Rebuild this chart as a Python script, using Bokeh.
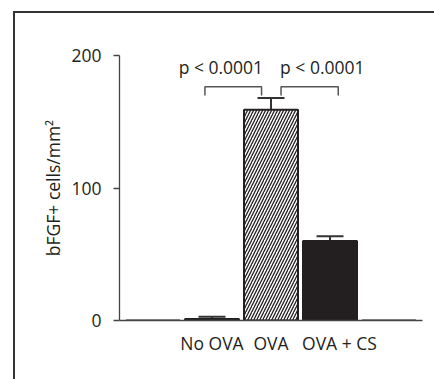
from bokeh.plotting import figure
from bokeh.models import Range1d, FixedTicker, Whisker, TeeHead, ColumnDataSource
from bokeh.core.properties import value
from bokeh.embed import file_html
from bokeh.resources import INLINE

# ---- data ----
positions = [0, 1, 2, 3, 4]
bar_values = [0, 1.2, 159, 60, 0]
bar_hatch = [" ", " ", "/", " ", " "]
bar_fill = ["white", "#231f20", "white", "#231f20", "white"]

err_pos = [1, 2, 3]
err_low = [1.2, 159, 60]
err_high = [2.8, 168, 63.5]

category_labels = ["No OVA", "OVA", "OVA + CS"]
label_pos = [1, 2, 3.16]
y_ticks = [0, 100, 200]

p_texts = ["p < 0.0001", "p < 0.0001"]
p_x = [1.15, 2.87]
p_y = [191.5, 191.5]

bracket_x0 = [0.88, 2.17]
bracket_x1 = [1.84, 3.14]
bracket_top = [176.5, 176.5]
bracket_bottom = [169.8, 169.8]

INK = "#231f20"
FONT = "Open Sans"
FS = "17.5px"

p = figure(width=434, height=379, output_backend="svg", toolbar_location=None,
           x_range=Range1d(-0.568, 4.568), y_range=Range1d(0, 200),
           min_border_left=119, min_border_right=12, min_border_top=55, min_border_bottom=59)
p.outline_line_color = None
p.xgrid.grid_line_color = None
p.ygrid.grid_line_color = None
p.background_fill_color = None
p.border_fill_color = None
# outer panel frame (only its left and top edges fall inside the picture)
p.styles = {
    "background": "linear-gradient(#333333, #333333) 13px 11px / 2px 100% no-repeat, "
                  "linear-gradient(#333333, #333333) 13px 11px / 100% 2px no-repeat, white"
}

src = ColumnDataSource(dict(x=positions, top=bar_values, hatch=bar_hatch, fill=bar_fill))
p.vbar(x="x", top="top", width=0.915, source=src, fill_color="fill", line_color=INK,
       line_width=2, hatch_pattern="hatch", hatch_color=INK, hatch_scale=6, hatch_weight=1.3)

esrc = ColumnDataSource(dict(x=err_pos, lo=err_low, hi=err_high))
p.add_layout(Whisker(base="x", lower="lo", upper="hi", source=esrc, line_color="#333333", line_width=2,
                     upper_head=TeeHead(size=27, line_color="#333333", line_width=2), lower_head=None))

xs = [[a, a, b, b] for a, b in zip(bracket_x0, bracket_x1)]
ys = [[lo, hi, hi, lo] for lo, hi in zip(bracket_bottom, bracket_top)]
p.multi_line(xs, ys, line_color="#555555", line_width=1.5)

p.text(x=p_x, y=p_y, text=p_texts, text_font=value(FONT), text_font_size=FS,
       text_align="center", text_baseline="middle", text_color=INK)

# axes
p.yaxis.ticker = FixedTicker(ticks=y_ticks, minor_ticks=[])
p.yaxis.axis_label = "bFGF+ cells/mm²"
p.yaxis.axis_label_text_font = FONT
p.yaxis.axis_label_text_font_style = "normal"
p.yaxis.axis_label_text_font_size = FS
p.yaxis.axis_label_text_color = INK
p.yaxis.axis_label_standoff = 3
p.yaxis.major_tick_out = 6
p.yaxis.major_tick_in = 0
p.yaxis.major_label_standoff = 12

p.xaxis.ticker = FixedTicker(ticks=label_pos, minor_ticks=[])
p.xaxis.major_label_overrides = {k: v for k, v in zip(label_pos, category_labels)}
p.xaxis.major_label_standoff = 4

for ax in (p.xaxis, p.yaxis):
    ax.axis_line_color = "#444444"
    ax.axis_line_width = 1.3
    ax.major_tick_line_width = 1.3
    ax.minor_tick_line_color = None
    ax.major_label_text_font = FONT
    ax.major_label_text_font_size = FS
    ax.major_label_text_color = INK
p.yaxis.major_tick_line_color = "#444444"
p.xaxis.major_tick_line_color = None

open("out.html", "w").write(file_html(p, INLINE))
